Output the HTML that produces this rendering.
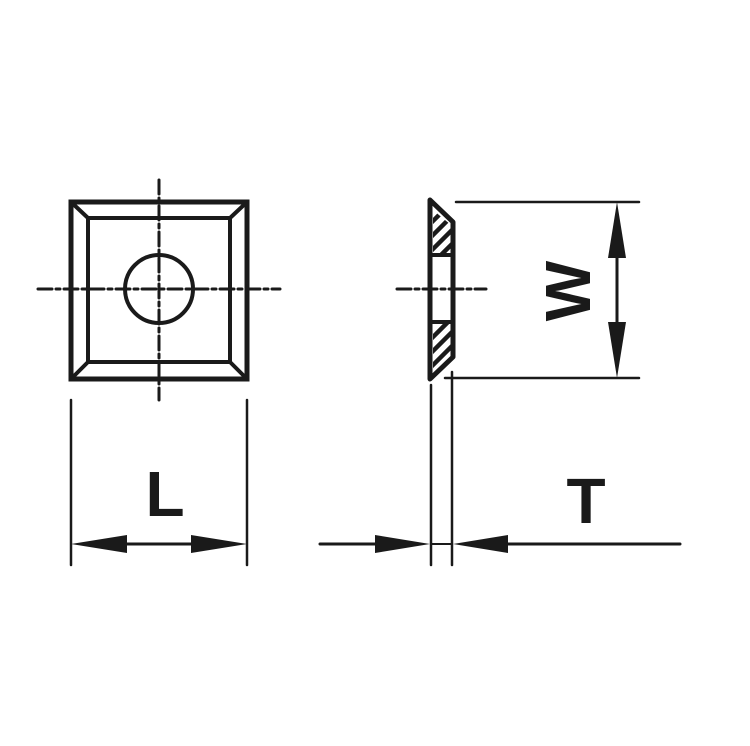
<!DOCTYPE html>
<html><head><style>html,body{margin:0;padding:0;background:#fff}svg{display:block}</style></head>
<body>
<svg width="750" height="746" viewBox="0 0 750 746" xmlns="http://www.w3.org/2000/svg">
<defs>
<clipPath id="h1"><polygon points="433,210 451,225 451,253 433,253"/></clipPath>
<clipPath id="h2"><polygon points="433,324 451,324 451,356 433,372"/></clipPath>
</defs>
<g stroke="#1a1a1a" fill="none" stroke-linecap="round">
<rect x="71" y="202" width="176" height="177" stroke-width="5"/>
<rect x="88" y="218" width="142" height="144" stroke-width="4"/>
<line x1="71" y1="202" x2="88" y2="218" stroke-width="4"/>
<line x1="247" y1="202" x2="230" y2="218" stroke-width="4"/>
<line x1="71" y1="379" x2="88" y2="362" stroke-width="4"/>
<line x1="247" y1="379" x2="230" y2="362" stroke-width="4"/>
<circle cx="159" cy="289" r="34" stroke-width="4"/>
<line x1="38" y1="289" x2="280" y2="289" stroke-width="3" stroke-dasharray="14,4,4,4"/>
<line x1="159" y1="180" x2="159" y2="400" stroke-width="3" stroke-dasharray="14,4,4,4"/>
<line x1="71" y1="400" x2="71" y2="565" stroke-width="2.5"/>
<line x1="247" y1="400" x2="247" y2="565" stroke-width="2.5"/>
<line x1="120" y1="544" x2="200" y2="544" stroke-width="3"/>
<path d="M430,200 L453,222 L453,357 L430,379 Z" stroke-width="5" stroke-linejoin="round"/>
<line x1="432" y1="255" x2="452" y2="255" stroke-width="4"/>
<line x1="432" y1="322" x2="452" y2="322" stroke-width="4"/>
<line x1="397" y1="289" x2="486" y2="289" stroke-width="3" stroke-dasharray="14,4,4,4"/>
<g clip-path="url(#h1)" stroke-width="4.5">
<line x1="420" y1="262" x2="470" y2="212"/><line x1="420" y1="248" x2="470" y2="198"/><line x1="420" y1="234" x2="470" y2="184"/><line x1="420" y1="276" x2="470" y2="226"/>
</g>
<g clip-path="url(#h2)" stroke-width="4.5">
<line x1="420" y1="350" x2="470" y2="300"/><line x1="420" y1="364" x2="470" y2="314"/><line x1="420" y1="378" x2="470" y2="328"/><line x1="420" y1="392" x2="470" y2="342"/>
</g>
<line x1="456" y1="202" x2="639" y2="202" stroke-width="2.5"/>
<line x1="445" y1="378" x2="639" y2="378" stroke-width="2.5"/>
<line x1="617" y1="250" x2="617" y2="330" stroke-width="3"/>
<line x1="431" y1="385" x2="431" y2="565" stroke-width="2.5"/>
<line x1="452" y1="372" x2="452" y2="565" stroke-width="2.5"/>
<line x1="320" y1="544" x2="380" y2="544" stroke-width="3"/>
<line x1="505" y1="544" x2="680" y2="544" stroke-width="3"/>
<line x1="431" y1="544" x2="452" y2="544" stroke-width="2"/>
</g>
<g fill="#1a1a1a">
<polygon points="71,544 127,535 127,553"/>
<polygon points="247,544 191,535 191,553"/>
<polygon points="617,202 608,258 626,258"/>
<polygon points="617,378 608,322 626,322"/>
<polygon points="430,544 375,535 375,553"/>
<polygon points="453,544 508,535 508,553"/>
</g>
<g font-family="Liberation Sans, sans-serif" font-weight="bold" font-size="64" fill="#1a1a1a" text-anchor="middle">
<text x="165" y="516">L</text>
<text x="586" y="523">T</text>
<text transform="translate(590,291) rotate(-90)">W</text>
</g>
</svg>
</body></html>
